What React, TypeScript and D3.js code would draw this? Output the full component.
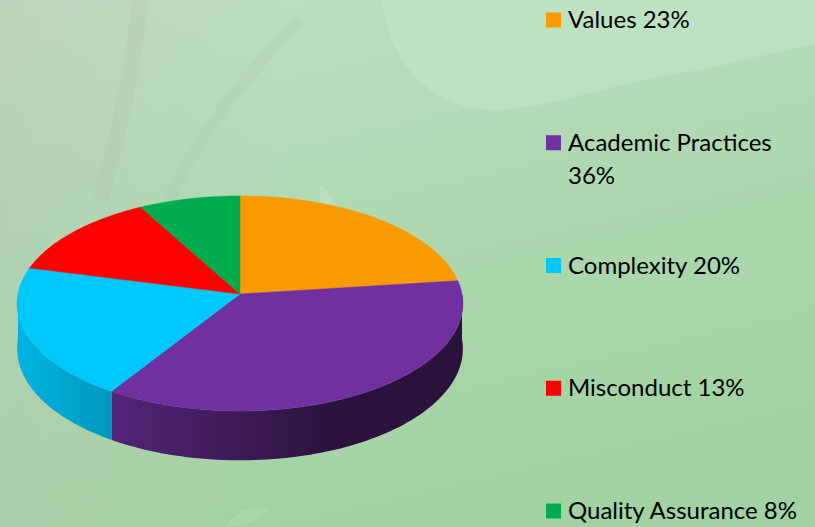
import React from "react";
import * as d3 from "d3";

const WIDTH = 815;
const HEIGHT = 527;

const categories = ["Values", "Academic Practices", "Complexity", "Misconduct", "Quality Assurance"];
const values = [23, 36, 20, 13, 8];
const legendLines = [["Values 23%"], ["Academic Practices", "36%"], ["Complexity 20%"], ["Misconduct 13%"], ["Quality Assurance 8%"]];
const colors = ["#F99A00", "#7030A0", "#00C8FA", "#FF0000", "#00AC4E"];

// pie geometry (perspective ellipse)
const CX = 240;
const CY = 294;
const RX = 222;
const RY = 106.7;
const K = 0.088;
const DEPTH = 45;

const project = (a: number) => {
  const w = 1 + K * Math.cos(a);
  return {
    x: CX + (RX * Math.sin(a)) / w,
    y: CY - (RY * Math.cos(a)) / w,
    d: DEPTH / w,
  };
};

const arcPoints = (a0: number, a1: number) => {
  const n = Math.max(2, Math.ceil(((a1 - a0) / (Math.PI * 2)) * 240));
  return d3.range(n + 1).map((i) => project(a0 + ((a1 - a0) * i) / n));
};

const line = d3.line<[number, number]>();

export default function App() {
  const pie = d3.pie<number>().sort(null).startAngle(0).endAngle(Math.PI * 2);
  const arcs = pie(values);

  const shade = d3
    .scaleLinear<number>()
    .domain([0, 0.19, 0.7, 1])
    .range([0.9, 0.77, 0.39, 0.38]);

  const walls = arcs
    .map((a, i) => {
      const s = Math.max(a.startAngle, Math.PI / 2);
      const e = Math.min(a.endAngle, (Math.PI * 3) / 2);
      if (e <= s) return null;
      const pts = arcPoints(s, e);
      const top: [number, number][] = pts.map((p) => [p.x, p.y]);
      const bottom: [number, number][] = pts.map((p) => [p.x, p.y + p.d] as [number, number]).reverse();
      return { i, d: line([...top, ...bottom]) + "Z" };
    })
    .filter(Boolean) as { i: number; d: string }[];

  const tops = arcs.map((a, i) => {
    const pts: [number, number][] = arcPoints(a.startAngle, a.endAngle).map((p) => [p.x, p.y]);
    return { i, d: line([[CX, CY], ...pts]) + "Z" };
  });

  const legendY = d3.scalePoint<number>().domain(d3.range(categories.length)).range([20, 511]);

  return (
    <svg
      width={WIDTH}
      height={HEIGHT}
      style={{ position: "fixed", left: 0, top: 0 }}
      fontFamily="Lato, 'Open Sans', sans-serif"
    >
      <defs>
        <linearGradient id="bg" x1="0" y1="0" x2="0.35" y2="1">
          <stop offset="0" stopColor="#c0dec4" />
          <stop offset="0.5" stopColor="#afd9b2" />
          <stop offset="1" stopColor="#a2d2a2" />
        </linearGradient>
        <linearGradient id="bgLeft" x1="0" y1="0" x2="1" y2="0">
          <stop offset="0" stopColor="#b4c4ac" stopOpacity="0.35" />
          <stop offset="0.35" stopColor="#b4c4ac" stopOpacity="0" />
        </linearGradient>
        {colors.map((c, i) => {
          const base = d3.rgb(c);
          return (
            <linearGradient
              key={i}
              id={`side${i}`}
              gradientUnits="userSpaceOnUse"
              x1={CX - RX}
              x2={CX + RX}
              y1={0}
              y2={0}
            >
              {[0, 0.19, 0.45, 0.7, 1].map((t) => {
                const f = shade(t);
                const col = d3.rgb(base.r * f, base.g * f, base.b * f);
                return <stop key={t} offset={t} stopColor={col.formatHex()} />;
              })}
            </linearGradient>
          );
        })}
      </defs>

      {/* background */}
      <rect width={WIDTH} height={HEIGHT} fill="url(#bg)" />
      <rect width={WIDTH} height={HEIGHT} fill="url(#bgLeft)" />
      <path
        d="M382,0 C388,60 430,112 500,110 C560,106 620,80 700,70 C740,62 780,50 815,45 L815,0 Z"
        fill="#c6e8ca"
        opacity={0.5}
      />
      <path d="M140,0 C135,60 120,130 100,200" stroke="#aec2a8" strokeWidth={16} fill="none" opacity={0.25} />
      <path d="M300,20 C250,70 200,130 170,200" stroke="#aec2a8" strokeWidth={12} fill="none" opacity={0.2} />
      <path d="M320,185 C340,200 350,230 340,260 C330,240 318,210 320,185 Z" fill="#c2e4c4" opacity={0.6} />
      <path d="M225,527 C235,510 255,505 270,510 C260,520 245,525 225,527 Z" fill="#a8dca8" opacity={0.8} />

      {/* pie sides */}
      {walls.map((w) => (
        <path key={`w${w.i}`} d={w.d} fill={`url(#side${w.i})`} />
      ))}
      {/* pie top */}
      {tops.map((t) => (
        <path key={`t${t.i}`} d={t.d} fill={colors[t.i]} stroke={colors[t.i]} strokeWidth={0.5} />
      ))}

      {/* legend */}
      {categories.map((c, i) => {
        const y = legendY(i) as number;
        return (
          <g key={c}>
            <rect x={546} y={y - 7.5} width={15} height={15} fill={colors[i]} />
            <text x={568} y={y + 8} fontSize={24} fill="#000">
              {legendLines[i].map((l, j) => (
                <tspan key={j} x={568} dy={j === 0 ? 0 : 33}>
                  {l}
                </tspan>
              ))}
            </text>
          </g>
        );
      })}
    </svg>
  );
}
